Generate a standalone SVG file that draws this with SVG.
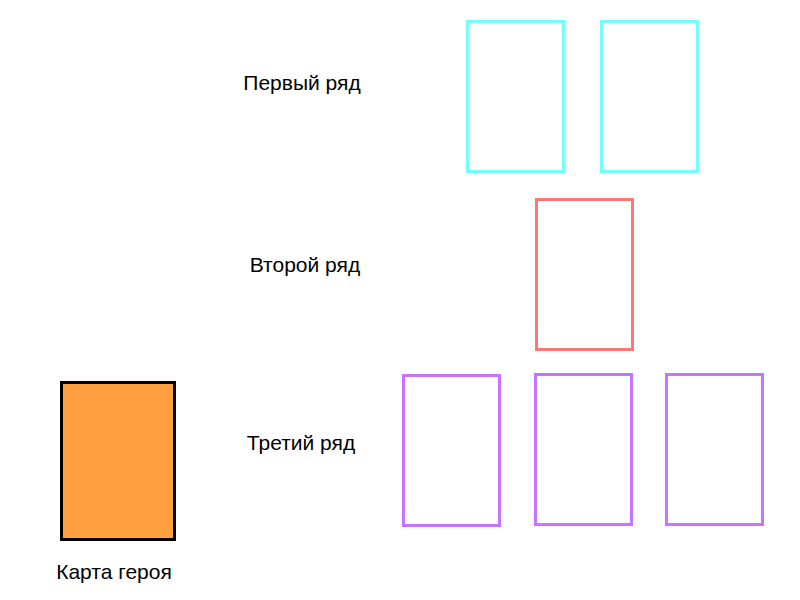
<svg xmlns="http://www.w3.org/2000/svg" width="800" height="600" viewBox="0 0 800 600">
<style>
.lbl{font-family:"Liberation Sans",Arial,sans-serif;font-size:21px;fill:#000;text-anchor:middle}
.card{fill:none;stroke-width:3}
.c1{stroke:#73ffff}
.c2{stroke:#ff7773}
.c3{stroke:#c773ff}
</style>
<rect width="800" height="600" fill="#fff"/>
<g id="labels">
<text class="lbl" x="302" y="90">Первый ряд</text>
<text class="lbl" x="305" y="272">Второй ряд</text>
<text class="lbl" x="301" y="450">Третий ряд</text>
</g>
<g id="row1">
<rect class="card c1" x="467.5" y="21.5" width="96" height="150"/>
<rect class="card c1" x="601.5" y="21.5" width="96" height="150"/>
</g>
<g id="row2">
<rect class="card c2" x="536.5" y="199.5" width="96" height="150"/>
</g>
<g id="row3">
<rect class="card c3" x="403.5" y="375.5" width="96" height="150"/>
<rect class="card c3" x="535.5" y="374.5" width="96" height="150"/>
<rect class="card c3" x="666.5" y="374.5" width="96" height="150"/>
</g>
<g id="hero">
<rect x="61.5" y="382.5" width="113" height="157" fill="#ffa040" stroke="#000" stroke-width="3"/>
<text class="lbl" x="114" y="579">Карта героя</text>
</g>
<g id="connectors"/>
</svg>
